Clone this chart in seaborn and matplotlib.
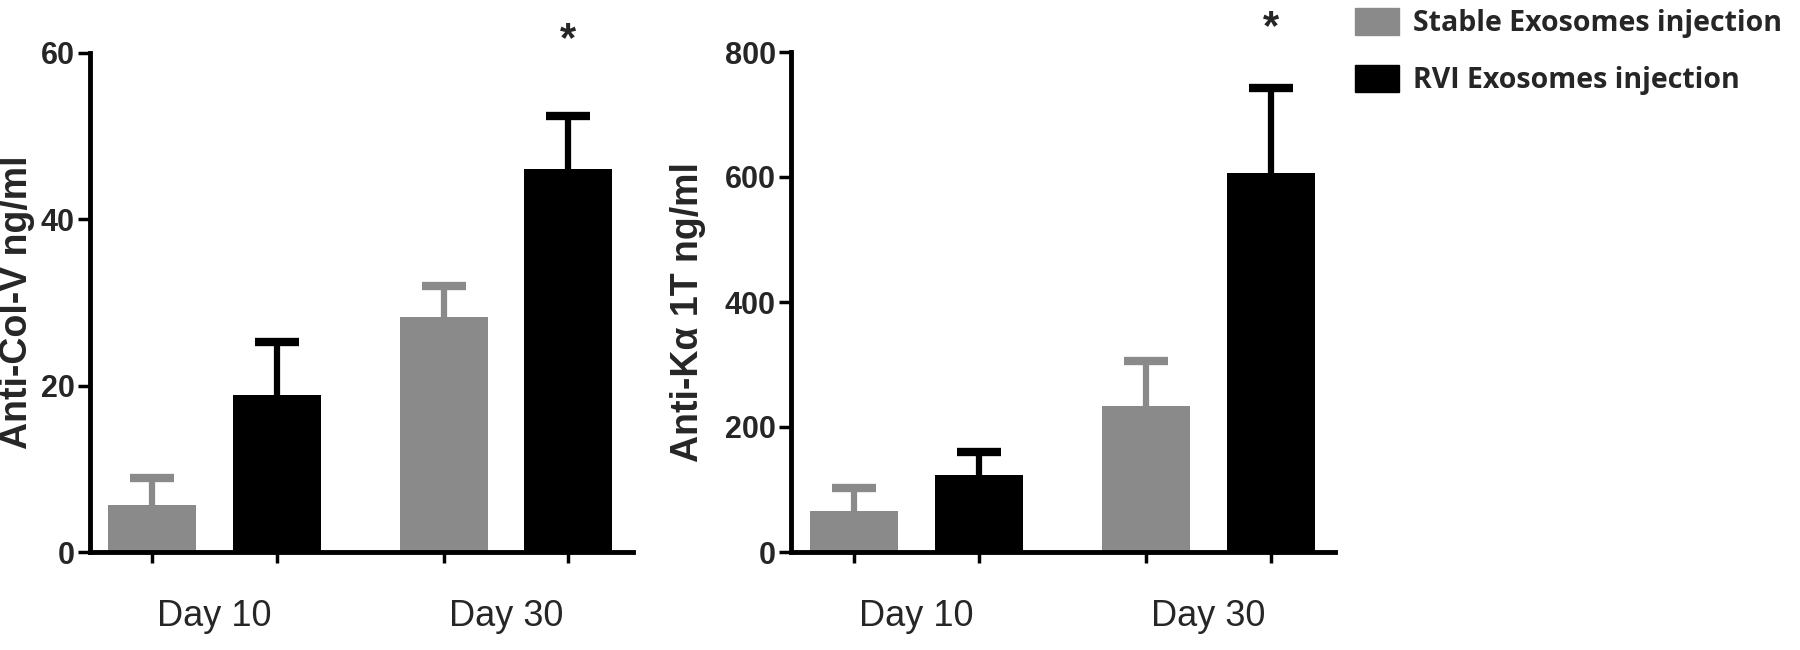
import matplotlib
matplotlib.use("Agg")
import matplotlib.pyplot as plt
import seaborn as sns
import pandas as pd
from matplotlib.patches import Patch

days = ["Day 10", "Day 30"]
groups = ["Stable Exosomes injection", "RVI Exosomes injection"]

colv_stable = [5.7, 28.2]
colv_rvi = [18.9, 46.0]
colv_stable_err = [3.2, 3.8]
colv_rvi_err = [6.3, 6.4]

ka_stable = [66, 234]
ka_rvi = [123, 607]
ka_stable_err = [36, 72]
ka_rvi_err = [37, 135]

y1_ticks = [0, 20, 40, 60]
y2_ticks = [0, 200, 400, 600, 800]

colors = ["#8a8a8a", "#000000"]

sns.set_theme(style="white")
plt.rcParams['font.family'] = ['Liberation Sans', 'DejaVu Sans']

fig = plt.figure(figsize=(18, 6.5), dpi=100)
ax1 = fig.add_axes([90/1800, 1-552/650, (633-90)/1800, (552-53)/650])
ax2 = fig.add_axes([791/1800, 1-552/650, (1335-791)/1800, (552-52)/650])


def panel(ax, stable, rvi, s_err, r_err, yticks, ylabel, xlim, star_y,
          label_xy):
    df = pd.DataFrame({
        "day": days * 2,
        "group": [groups[0]] * 2 + [groups[1]] * 2,
        "value": list(stable) + list(rvi),
    })
    sns.barplot(data=df, x="day", y="value", hue="group", hue_order=groups,
                palette=colors, width=0.856, gap=0.295, errorbar=None,
                saturation=1, legend=False, ax=ax, linewidth=0)
    errs = [s_err, r_err]
    vals = [stable, rvi]
    centers = []
    bar_containers = list(ax.containers)
    for gi, container in enumerate(bar_containers):
        for di, bar in enumerate(container.patches):
            bar.set_zorder(2)
            xc = bar.get_x() + bar.get_width() / 2
            centers.append(xc)
            eb = ax.errorbar(xc, vals[gi][di], yerr=[[0], [errs[gi][di]]],
                             fmt="none", ecolor=colors[gi], elinewidth=4.5,
                             capsize=15.5, capthick=6, zorder=1)
            caps = eb.lines[1]
            if len(caps) == 2:
                caps[0].set_visible(False)
    ax.set_ylim(yticks[0], yticks[-1])
    ax.set_xlim(*xlim)
    ax.set_yticks(yticks)
    ax.set_yticklabels([str(t) for t in yticks], fontweight="bold",
                       fontsize=22)
    ax.set_xticks([0, 1])
    ax.set_xticklabels(days, fontsize=26)
    ax.set_xticks(sorted(centers), minor=True)
    ax.tick_params(axis="x", which="major", length=0, pad=34)
    ax.tick_params(axis="x", which="minor", bottom=True, length=8,
                   width=2.5, color="black")
    ax.tick_params(axis="y", which="major", left=True, length=9,
                   width=2.5, color="black", pad=2)
    for s in ["top", "right"]:
        ax.spines[s].set_visible(False)
    for s in ["left", "bottom"]:
        ax.spines[s].set_linewidth(3.5)
        ax.spines[s].set_color("black")
    ax.set_xlabel("")
    ax.set_ylabel(ylabel, fontsize=27, fontweight="bold")
    ax.yaxis.set_label_coords(*label_xy)
    ax.text(max(centers), star_y, "*", ha="center", va="center",
            fontsize=30, fontweight="bold", clip_on=False)


panel(ax1, colv_stable, colv_rvi, colv_stable_err, colv_rvi_err, y1_ticks,
      "Anti-Col-V ng/ml", (-0.427, 1.436), 61.5, (-0.102, 0.5))
panel(ax2, ka_stable, ka_rvi, ka_stable_err, ka_rvi_err, y2_ticks,
      "Anti-K\u03b1 1T ng/ml", (-0.431, 1.435), 838, (-0.156, 0.48))

handles = [Patch(facecolor=c, edgecolor=c) for c in colors]
leg = fig.legend(handles, groups, loc="upper left",
                 bbox_to_anchor=(1342/1800, 1.008), frameon=False,
                 prop={"family": ["Open Sans", "DejaVu Sans"],
                       "weight": "bold", "size": 20.5},
                 handlelength=1.55, handleheight=1.1, handletextpad=0.5,
                 labelspacing=0.95, borderaxespad=0.05)

fig.savefig("out.png", dpi=100, facecolor="white")
